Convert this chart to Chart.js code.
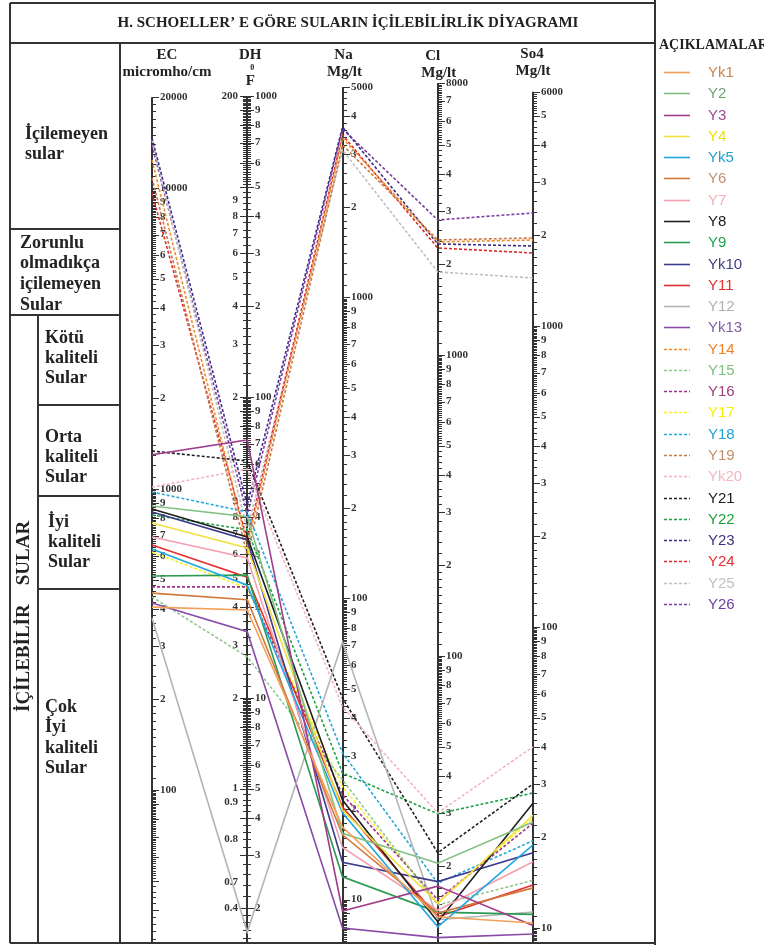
<!DOCTYPE html>
<html lang="tr">
<head>
<meta charset="utf-8">
<title>Schoeller diyagramı</title>
<script src="https://cdn.jsdelivr.net/npm/chart.js@4.4.1/dist/chart.umd.min.js"></script>
<style>
  html, body { margin: 0; padding: 0; background: #fff; }
  canvas { display: block; }
</style>
</head>
<body>
<canvas id="myChart" width="764" height="945"></canvas>
<script>
// eksenler soldan saga
const ejes = ['EC', 'DH', 'Na', 'Cl', 'So4'];

const nombres = ['Yk1','Y2','Y3','Y4','Yk5','Y6','Y7','Y8','Y9','Yk10','Y11','Y12','Yk13',
                 'Y14','Y15','Y16','Y17','Y18','Y19','Yk20','Y21','Y22','Y23','Y24','Y25','Y26'];
const colores = ['#f5a05a','#80c080','#a03c8c','#f0e040','#20a8e0','#d2783c','#f4a0b0','#202020','#2a9a50','#3c3c8c','#e53030','#b4b4b4','#8a4aa8',
                 '#f08c28','#90c890','#a0308c','#f8f020','#28a8d8','#c8784a','#f4b4c0','#202020','#20a048','#3c2c88','#e02828','#c0c0c0','#7a3ca0'];
const coloresTexto = ['#c8844c','#70a070','#9a4c90','#f0e000','#20a0d0','#c09070','#f0b0b8','#202020','#20a050','#404080','#e03030','#b0b0b0','#8060a0',
                      '#f08020','#80c080','#a04080','#f8f000','#20a0d8','#c09070','#f0b8c0','#202020','#20a040','#403080','#e03030','#c0c0c0','#7040a0'];
const punteada = [false,false,false,false,false,false,false,false,false,false,false,false,false,
                  true,true,true,true,true,true,true,true,true,true,true,true,true];

// degerler (her eksen kendi biriminde)
const ec  = [405, 878, 1300, 771, 632, 451, 693, 858, 514, 839, 652, 373, 418,
             12390, 438, 473, 617, 977, 10800, 1015, 1337, 820, 14660, 9625, 14440, 13900];
const dh  = [19.6, 40.0, 72.0, 31.5, 23.7, 21.2, 29.2, 34.3, 25.6, 33.5, 25.2, 1.67, 16.6,
             32.2, 13.7, 23.4, 23.2, 41.5, 29.9, 57.6, 61.3, 36.2, 43.8, 33.5, 36.2, 40.6];
const na  = [17.4, 16.6, 9.16, 19.8, 19.4, 16.4, 14.9, 21.4, 11.9, 13.3, 20.3, 71.7, 8.04,
             3388, 25.0, 22.3, 23.7, 30.7, 3210, 43.6, 46.7, 26.3, 3685, 3467, 3090, 3629];
const cl  = [13.6, 20.5, 17.2, 15.1, 12.6, 14.0, 14.3, 13.1, 14.1, 17.8, 13.6, 13.3, 11.6,
             2374, 14.9, 15.5, 15.1, 17.6, 2411, 30.1, 22.2, 29.9, 2338, 2267, 1887, 2809];
const so4 = [10.4, 22.5, 10.2, 23.7, 18.9, 13.6, 16.6, 26.0, 11.1, 17.8, 13.9, 11.3, 9.55,
             1931, 14.4, 22.3, 23.2, 19.5, 1961, 40.0, 30.1, 28.1, 1844, 1748, 1444, 2374];

// etiketli tick degerleri
const ecTicks  = [20000,10000,9000,8000,7000,6000,5000,4000,3000,2000,1000,900,800,700,600,500,400,300,200,100];
const dhTicks  = [1000,900,800,700,600,500,400,300,200,100,90,80,70,60,50,40,30,20,10,9,8,7,6,5,4,3,2];
const naTicks  = [5000,4000,3000,2000,1000,900,800,700,600,500,400,300,200,100,90,80,70,60,50,40,30,20,10];
const clTicks  = [8000,7000,6000,5000,4000,3000,2000,1000,900,800,700,600,500,400,300,200,100,90,80,70,60,50,40,30,20];
const so4Ticks = [6000,5000,4000,3000,2000,1000,900,800,700,600,500,400,300,200,100,90,80,70,60,50,40,30,20,10];
// DH sol taraf etiketleri ve F eksenindeki yerleri
const dhSolTexto = ['200','9','8','7','6','5','4','3','2','9','8','7','6','5','4','3','2','1','0.9','0.8','0.7','0.4'];
const dhSolEn    = [1000,450,400,350,300,250,200,150,100,45,40,35,30,25,20,15,10,5,4.5,3.4,2.45,2];

// her eksenin Na (mg/l) eksenine gore kaymasi (log eksenleri ayni olcekte)
const factor = [0.2311, 4.671, 1, 0.6442, 0.8039];
const todos = [ec, dh, na, cl, so4];
const ticksEje = [ecTicks, dhTicks, naTicks, clTicks, so4Ticks];

function textoTick(v, k) {
  const e = Math.floor(Math.log10(v) + 1e-9);
  if (k === 0 || Math.abs(v - Math.pow(10, e)) < 1e-9) return String(v);
  return String(Math.round(v / Math.pow(10, e)));
}

function marcas(min, max) {
  const out = [];
  for (let e = Math.floor(Math.log10(min)); e <= Math.ceil(Math.log10(max)); e++) {
    for (let m = 10; m < 100; m += (m >= 20 && m < 50) ? 2 : 1) {
      const v = m / 10 * Math.pow(10, e);
      if (v >= min && v <= max * 1.0001) out.push({ v: v, largo: m % 10 === 0 });
    }
  }
  return out;
}

function bloque(c, lineas, x, y0, paso) {
  lineas.forEach((t, i) => c.fillText(t, x, y0 + i * paso));
}

const diagrama = {
  id: 'diagrama',
  beforeDatasetsDraw(chart) {
    const c = chart.ctx, xs = chart.scales.x, ys = chart.scales.y;
    const abajo = 943;
    c.save();
    ticksEje.forEach((lista, i) => {
      const px = Math.round(xs.getPixelForValue(i));
      const pos = v => ys.getPixelForValue(v * factor[i]);
      const arriba = pos(lista[0]);
      c.strokeStyle = '#333';
      c.lineWidth = 2;
      c.beginPath(); c.moveTo(px, arriba); c.lineTo(px, abajo); c.stroke();
      const vmin = ys.getValueForPixel(abajo) / factor[i];
      c.lineWidth = 1;
      c.beginPath();
      marcas(vmin, lista[0]).forEach(t => {
        const py = Math.round(pos(t.v)) + 0.5;
        const l = t.largo ? 7 : 4;
        c.moveTo(px, py); c.lineTo(px + l, py);
        if (i === 1) { c.moveTo(px - l, py); c.lineTo(px, py); }
      });
      c.stroke();
      c.fillStyle = '#333';
      c.font = 'bold 11px "Liberation Serif"';
      c.textAlign = 'left';
      c.textBaseline = 'middle';
      lista.forEach((v, k) => c.fillText(textoTick(v, k), px + 8, pos(v)));
      if (i === 1) {
        c.textAlign = 'right';
        dhSolTexto.forEach((t, k) => c.fillText(t, px - 9, pos(dhSolEn[k])));
      }
    });
    c.restore();
  },
  afterDraw(chart) {
    const c = chart.ctx, xs = chart.scales.x;
    c.save();
    // cerceveler
    c.strokeStyle = '#333';
    c.lineWidth = 2;
    const lineas = [
      [10, 3, 655, 3], [10, 43, 655, 43], [10, 943, 655, 943],
      [10, 3, 10, 943], [655, 0, 655, 945], [120, 43, 120, 943], [38, 315, 38, 943],
      [10, 229, 120, 229], [10, 315, 120, 315], [38, 405, 120, 405], [38, 496, 120, 496], [38, 589, 120, 589]
    ];
    c.beginPath();
    lineas.forEach(l => { c.moveTo(l[0], l[1]); c.lineTo(l[2], l[3]); });
    c.stroke();

    c.fillStyle = '#222';
    c.textBaseline = 'middle';
    c.textAlign = 'center';
    c.font = 'bold 15px "Liberation Serif"';
    c.fillText('H. SCHOELLER\u2019 E GÖRE SULARIN İÇİLEBİLİRLİK DİYAGRAMI', 348, 23);

    // eksen basliklari
    const px = ejes.map((e, i) => xs.getPixelForValue(i));
    c.fillText('EC', px[0] + 15, 55);
    c.fillText('micromho/cm', px[0] + 15, 72);
    c.fillText('DH', px[1] + 3, 55);
    c.fillText('F', px[1] + 3, 81);
    c.fillText('Na', px[2] + 1, 55);
    c.fillText('Mg/lt', px[2] + 2, 72);
    c.fillText('Cl', px[3] - 5, 56);
    c.fillText('Mg/lt', px[3] + 1, 73);
    c.fillText('So4', px[4] - 1, 54);
    c.fillText('Mg/lt', px[4], 71);
    c.font = 'bold 8px "Liberation Serif"';
    c.fillText('0', px[1] + 5, 68);

    // tablo
    c.textAlign = 'left';
    c.font = 'bold 18px "Liberation Serif"';
    bloque(c, ['İçilemeyen', 'sular'], 25, 134, 20);
    bloque(c, ['Zorunlu', 'olmadıkça', 'içilemeyen', 'Sular'], 20, 243, 20.7);
    bloque(c, ['Kötü', 'kaliteli', 'Sular'], 45, 338, 20);
    bloque(c, ['Orta', 'kaliteli', 'Sular'], 45, 437, 20);
    bloque(c, ['İyi', 'kaliteli', 'Sular'], 48, 522, 20);
    bloque(c, ['Çok', 'İyi', 'kaliteli', 'Sular'], 45, 707, 20.5);
    c.save();
    c.translate(24, 712);
    c.rotate(-Math.PI / 2);
    c.font = 'bold 19px "Liberation Serif"';
    c.fillText('İÇİLEBİLİR    SULAR', 0, 0);
    c.restore();

    // aciklamalar
    c.font = 'bold 14px "Liberation Serif"';
    c.fillText('AÇIKLAMALAR', 659, 45);
    c.font = '15px "Liberation Sans"';
    chart.data.datasets.forEach((d, i) => {
      const y = Math.round(72 + i * 21.28) + 0.5;
      c.strokeStyle = d.borderColor;
      c.lineWidth = 1.6;
      c.setLineDash(d.borderDash);
      c.beginPath(); c.moveTo(664, y); c.lineTo(690, y); c.stroke();
      c.setLineDash([]);
      c.fillStyle = coloresTexto[i];
      c.fillText(d.label, 708, y);
    });
    c.restore();
  }
};

const datasets = nombres.map((n, s) => ({
  label: n,
  data: todos.map((arr, i) => arr[s] * factor[i]),
  borderColor: colores[s],
  backgroundColor: colores[s],
  borderWidth: 1.6,
  borderDash: punteada[s] ? [3, 2] : [],
  fill: false,
  tension: 0,
  pointRadius: 0
}));

const ctx = document.getElementById('myChart');
const myChart = new Chart(ctx, {
  type: 'line',
  data: { labels: ejes, datasets: datasets },
  options: {
    responsive: false,
    animation: false,
    layout: { padding: { top: 87, bottom: 5, left: 152, right: 231 } },
    plugins: { legend: { display: false }, tooltip: { enabled: false } },
    scales: {
      x: { type: 'category', display: false, offset: false },
      y: { type: 'logarithmic', display: false, min: 7.337, max: 5003 }
    }
  },
  plugins: [diagrama]
});
</script>
</body>
</html>
